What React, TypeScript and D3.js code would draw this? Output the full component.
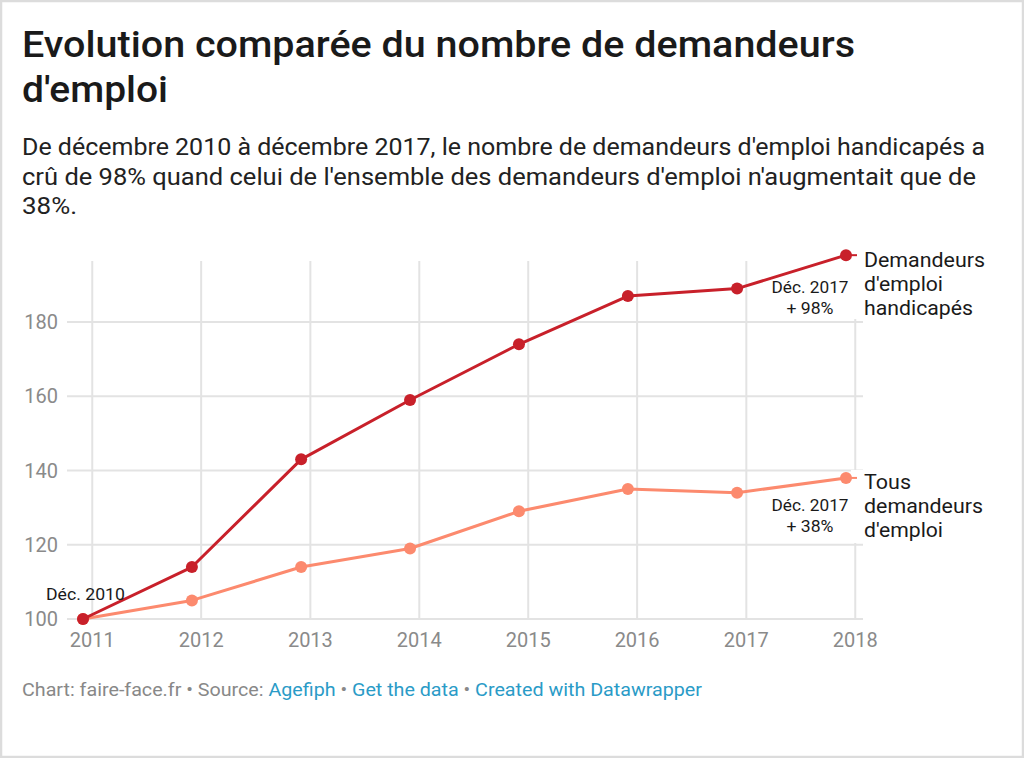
import React from "react";
import * as d3 from "d3";

const years = ["2010-12", "2011-12", "2012-12", "2013-12", "2014-12", "2015-12", "2016-12", "2017-12"];
const handicapes = [100, 114, 143, 159, 174, 187, 189, 198];
const tous = [100, 105, 114, 119, 129, 135, 134, 138];
const yTicks = [100, 120, 140, 160, 180];
const xTickYears = [2011, 2012, 2013, 2014, 2015, 2016, 2017, 2018];
const seriesLabels = [
  ["Demandeurs", "d'emploi", "handicapés"],
  ["Tous", "demandeurs", "d'emploi"],
];
const labelWidths = [
  [121, 79, 109],
  [47, 119, 79],
];
const endNotes = [["Déc. 2017", "+ 98%"], ["Déc. 2017", "+ 38%"]];
const titleLines = ["Evolution comparée du nombre de demandeurs", "d'emploi"];
const titleWidths = [833, 146];
const subtitleLines = [
  "De décembre 2010 à décembre 2017, le nombre de demandeurs d'emploi handicapés a",
  "crû de 98% quand celui de l'ensemble des demandeurs d'emploi n'augmentait que de",
  "38%.",
];
const subtitleWidths = [963, 954, 55];

const W = 1024;
const H = 758;
const FONT = "Roboto, 'Noto Sans', sans-serif";
const RED = "#c8202a";
const SALMON = "#fc8a6e";
const GRID = "#e3e3e3";
const LINK = "#2a9bc7";

export default function App() {
  const parse = d3.timeParse("%Y-%m");
  const dates = years.map((s) => parse(s) as Date);
  const x = d3.scaleTime().domain([dates[0], dates[dates.length - 1]]).range([83, 846]);
  const y = d3.scaleLinear().domain([100, 180]).range([619, 322]);
  const line = d3
    .line<number>()
    .x((_, i) => x(dates[i]))
    .y((v) => y(v));
  const xTicks = xTickYears.map((yr) => new Date(yr, 0, 1));
  const gridTop = 261;
  const gridLeft = 67;
  const gridRight = 863;

  const series = [
    { values: handicapes, color: RED, label: seriesLabels[0], widths: labelWidths[0], note: endNotes[0], boxTop: 248, boxBottom: 319, noteY: 293 },
    { values: tous, color: SALMON, label: seriesLabels[1], widths: labelWidths[1], note: endNotes[1], boxTop: 470, boxBottom: 543, noteY: 511 },
  ];

  return (
    <svg
      width={W}
      height={H}
      style={{ position: "absolute", left: 0, top: 0, background: "#fff" }}
      fontFamily={FONT}
    >
      <rect x={1} y={1} width={W - 2} height={H - 2} fill="#fff" stroke="#dcdcdc" strokeWidth={2.5} />
      {titleLines.map((t, i) => (
        <text
          key={"t" + i}
          x={22}
          y={57 + i * 45}
          fontSize={36}
          fontWeight={500}
          fill="#1a1a1a"
          textLength={titleWidths[i]}
          lengthAdjust="spacingAndGlyphs"
        >
          {t}
        </text>
      ))}
      <g fontSize={24} fill="#222">
        {subtitleLines.map((t, i) => (
          <text key={"st" + i} x={22} y={155 + i * 29.5} textLength={subtitleWidths[i]} lengthAdjust="spacingAndGlyphs">
            {t}
          </text>
        ))}
      </g>

      {/* gridlines */}
      {yTicks.map((t) => (
        <line key={"h" + t} x1={gridLeft} x2={gridRight} y1={y(t)} y2={y(t)} stroke={GRID} strokeWidth={2} />
      ))}
      {xTicks.map((d, i) => (
        <line key={"v" + i} x1={x(d)} x2={x(d)} y1={gridTop} y2={y(100)} stroke={GRID} strokeWidth={2} />
      ))}
      {yTicks.map((t) => (
        <text key={"yl" + t} x={58} y={y(t)} dy="0.35em" textAnchor="end" fontSize={20} fill="#8a8a8a">
          {t}
        </text>
      ))}
      {xTicks.map((d, i) => (
        <text key={"xl" + i} x={x(d)} y={647} textAnchor="middle" fontSize={20} fill="#8a8a8a">
          {xTickYears[i]}
        </text>
      ))}

      {/* label backgrounds */}
      {series.map((s, i) => (
        <rect key={"bg" + i} x={851} y={s.boxTop} width={160} height={s.boxBottom - s.boxTop} fill="#fff" />
      ))}

      {/* lines */}
      {series
        .slice()
        .reverse()
        .map((s, i) => (
          <g key={"s" + i}>
            <line
              x1={x(dates[dates.length - 1])}
              x2={857}
              y1={y(s.values[s.values.length - 1])}
              y2={y(s.values[s.values.length - 1])}
              stroke={s.color}
              strokeWidth={2}
            />
            <path d={line(s.values) || ""} fill="none" stroke={s.color} strokeWidth={3} strokeLinejoin="round" />
            {s.values.map((v, j) => (
              <circle key={j} cx={x(dates[j])} cy={y(v)} r={6} fill={s.color} />
            ))}
          </g>
        ))}

      {/* series labels */}
      {series.map((s, i) => (
        <g key={"lab" + i} fontSize={20} fill="#1a1a1a">
          {s.label.map((t, j) => (
            <text key={j} x={864} y={s.boxTop + 19 + j * 24} textLength={s.widths[j]} lengthAdjust="spacingAndGlyphs">
              {t}
            </text>
          ))}
        </g>
      ))}

      {/* annotations */}
      {series.map((s, i) => (
        <g key={"n" + i} fontSize={17} fill="#1a1a1a" textAnchor="middle">
          <text x={810} y={s.noteY} textLength={77} lengthAdjust="spacingAndGlyphs">{s.note[0]}</text>
          <text x={810} y={s.noteY + 21} textLength={47} lengthAdjust="spacingAndGlyphs">{s.note[1]}</text>
        </g>
      ))}
      <text x={46} y={600} fontSize={17} fill="#1a1a1a" textLength={79} lengthAdjust="spacingAndGlyphs">
        Déc. 2010
      </text>

      {/* footer */}
      <text x={22} y={696} fontSize={18} fill="#888" textLength={680} lengthAdjust="spacingAndGlyphs">
        Chart: faire-face.fr • Source: <tspan fill={LINK}>Agefiph</tspan> • <tspan fill={LINK}>Get the data</tspan> •{" "}
        <tspan fill={LINK}>Created with Datawrapper</tspan>
      </text>
    </svg>
  );
}
